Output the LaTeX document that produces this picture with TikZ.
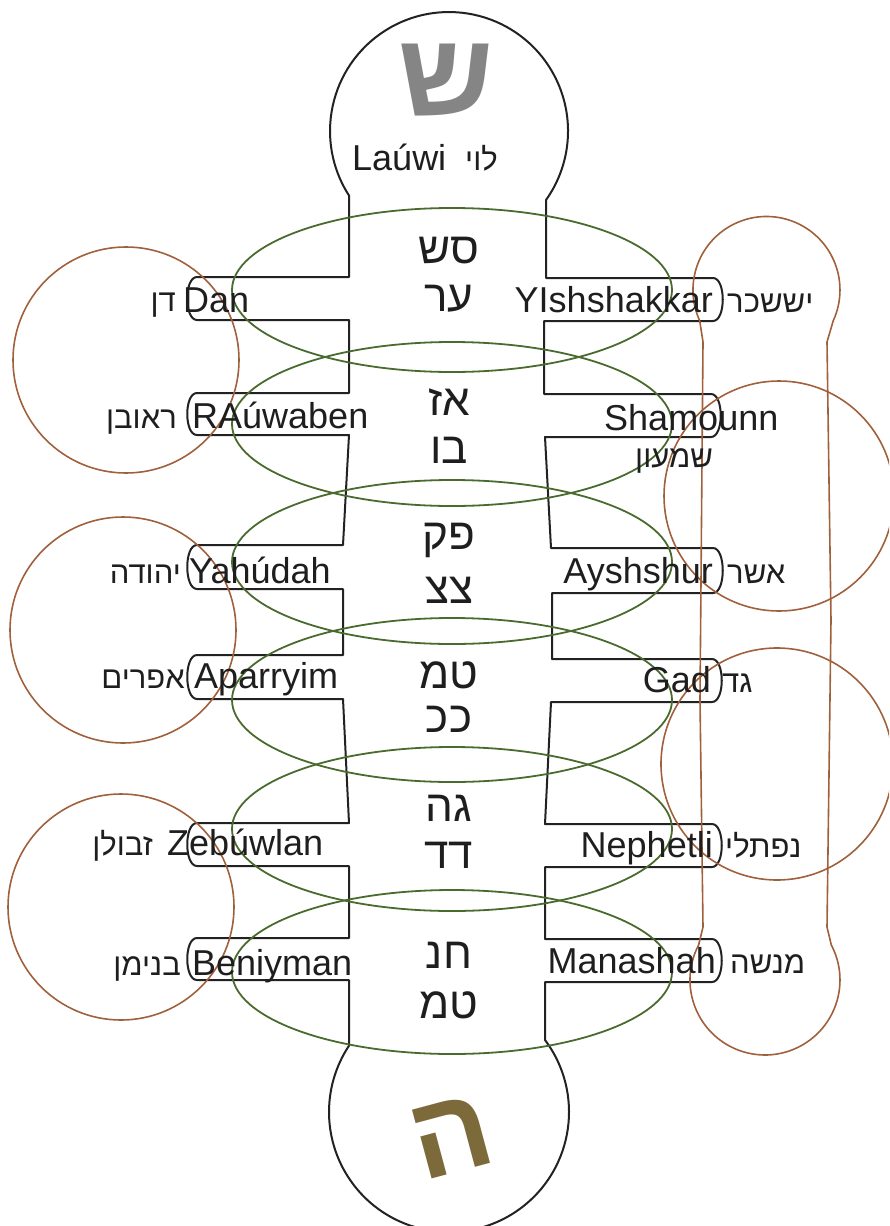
\documentclass[tikz,border=0pt]{standalone}
\usepackage{fontspec}
\setmainfont{Liberation Sans}
\newfontfamily\hebfont[Script=Hebrew]{Liberation Sans}
\TeXXeTstate=1
\usepackage{tikz}
\definecolor{OutlineDark}{HTML}{222222}
\definecolor{BandGreen}{HTML}{4A6B2E}
\definecolor{RingBrown}{HTML}{A0603C}
\definecolor{SealGray}{HTML}{858585}
\definecolor{SealOlive}{HTML}{7D6A3B}
\definecolor{TextDark}{HTML}{1E1E1E}

\begin{document}
\begin{tikzpicture}[x=1pt,y=-1pt,
    every node/.style={inner sep=0pt,text=TextDark},
    tribe/.style={font=\fontsize{36}{40}\selectfont},
    heb/.style={font=\hebfont\fontsize{31}{34}\selectfont},
    gem/.style={font=\hebfont\fontsize{44}{48}\selectfont},
    seal/.style={font=\hebfont\bfseries\fontsize{118}{120}\selectfont},
    band/.style={draw=BandGreen,line width=1.8pt},
    ring/.style={draw=RingBrown,line width=1.6pt},
    body/.style={draw=OutlineDark,line width=2pt,line join=round}]
  \useasboundingbox (0,0) rectangle (889,1226);
  \clip (0,0) rectangle (889,1226);

  % body with the twelve tabs
  \draw[body] (349,195.5) arc[start angle=147.2,end angle=395.4,radius=119]
    -- (546,278) -- (713,278) .. controls (726,278) and (726,321) .. (713,321)
    -- (544,321) -- (544,394) -- (711,394) .. controls (724,394) and (724,437) .. (711,437)
    -- (545,437) -- (551,548) -- (713,548) .. controls (726,548) and (726,593) .. (713,593)
    -- (552,593) -- (552,659) -- (712,659) .. controls (725,659) and (725,702) .. (712,702)
    -- (551,702) -- (545,824) -- (712,824) .. controls (725,824) and (725,867) .. (712,867)
    -- (545,867) -- (545,939) -- (712,939) .. controls (725,939) and (725,982) .. (712,982)
    -- (545,982) -- (545,1040) arc[start angle=-36.87,end angle=213.56,radius=120]
    -- (349,980) -- (197,980) .. controls (184,980) and (184,938) .. (197,938)
    -- (349,938) -- (349,866) -- (197,866) .. controls (184,866) and (184,823) .. (197,823)
    -- (349,823) -- (343,699) -- (197,699) .. controls (184,699) and (184,655) .. (197,655)
    -- (343,655) -- (343,589) -- (197,589) .. controls (184,589) and (184,545) .. (197,545)
    -- (343,545) -- (349,435) -- (197,435) .. controls (184,435) and (184,393) .. (197,393)
    -- (349,393) -- (349,320) -- (197,320) .. controls (184,320) and (184,277) .. (197,277)
    -- (349,277) -- cycle;

  % green bands
  \foreach \yc in {290,424,562,700,829,972}
    \draw[band] (452,\yc) ellipse[x radius=220,y radius=82];

  % brown rings
  \draw[ring] (126,360) circle[radius=113];
  \draw[ring] (123,630) circle[radius=113];
  \draw[ring] (121,907) circle[radius=113];
  \draw[ring] (779,496) circle[radius=115];
  \draw[ring] (777,764) circle[radius=116];
  \draw[ring] (703,342) -- (699.7,320.7) arc[start angle=155.3,end angle=384.7,radius=73.5]
    -- (827,342) -- (831,620) -- (827,927) -- (831.3,945)
    arc[start angle=-27.8,end angle=207.8,radius=75] -- (703,927) -- (700,700) -- cycle;

  % seals
  \node[seal,text=SealGray] (shin-seal) at (446,80) {ש};
  \node[seal,text=SealOlive,rotate=15] (he-seal) at (452,1137) {ה};

  % stones
  \node[gem] (gem1a) at (449,251) {\beginR סש\endR};
  \node[gem] (gem1b) at (449,299) {\beginR ער\endR};
  \node[gem] (gem2a) at (449,402) {\beginR אז\endR};
  \node[gem] (gem2b) at (449,450) {\beginR בו\endR};
  \node[gem] (gem3a) at (449,540) {\beginR פק\endR};
  \node[gem] (gem3b) at (449,590) {\beginR צצ\endR};
  \node[gem] (gem4a) at (449,675) {\beginR טמ\endR};
  \node[gem] (gem4b) at (449,719) {\beginR ככ\endR};
  \node[gem] (gem5a) at (449,808) {\beginR גה\endR};
  \node[gem] (gem5b) at (449,855) {\beginR דד\endR};
  \node[gem] (gem6a) at (449,955) {\beginR חנ\endR};
  \node[gem] (gem6b) at (449,1005) {\beginR טמ\endR};

  % tribes
  \node[tribe,anchor=base west] (levi) at (352,170) {Laúwi};
  \node[heb,anchor=base west] (levi-heb) at (465,170) {\beginR לוי\endR};
  \node[tribe,anchor=base west] (dan) at (183,312) {Dan};
  \node[heb,anchor=base east] (dan-heb) at (176,311) {\beginR דן\endR};
  \node[tribe,anchor=base west] (reuben) at (192,428) {RAúwaben};
  \node[heb,anchor=base east] (reuben-heb) at (177,428) {\beginR ראובן\endR};
  \node[tribe,anchor=base west] (judah) at (189,583) {Yahúdah};
  \node[heb,anchor=base east] (judah-heb) at (181,583) {\beginR יהודה\endR};
  \node[tribe,anchor=base west] (ephraim) at (194,688) {Aparryim};
  \node[heb,anchor=base east] (ephraim-heb) at (185,688) {\beginR אפרים\endR};
  \node[tribe,anchor=base west] (zebulun) at (167,855) {Zebúwlan};
  \node[heb,anchor=base east] (zebulun-heb) at (153,855) {\beginR זבולן\endR};
  \node[tribe,anchor=base west] (benjamin) at (192,975) {Beniyman};
  \node[heb,anchor=base east] (benjamin-heb) at (181,975) {\beginR בנימן\endR};
  \node[tribe,anchor=base east] (issachar) at (713,312) {YIshshakkar};
  \node[heb,anchor=base west] (issachar-heb) at (727,312) {\beginR יששכר\endR};
  \node[tribe,anchor=base west] (simeon) at (604,430) {Shamounn};
  \node[heb,anchor=base west] (simeon-heb) at (635,467) {\beginR שמעון\endR};
  \node[tribe,anchor=base east] (asher) at (713,583) {Ayshshur};
  \node[heb,anchor=base west] (asher-heb) at (727,583) {\beginR אשר\endR};
  \node[tribe,anchor=base east] (gad) at (711,692) {Gad};
  \node[heb,anchor=base west] (gad-heb) at (722,692) {\beginR גד\endR};
  \node[tribe,anchor=base east] (naphtali) at (713,857) {Nephetli};
  \node[heb,anchor=base west] (naphtali-heb) at (725,857) {\beginR נפתלי\endR};
  \node[tribe,anchor=base east] (manasseh) at (716,973) {Manashah};
  \node[heb,anchor=base west] (manasseh-heb) at (730,973) {\beginR מנשה\endR};
\end{tikzpicture}
\end{document}
